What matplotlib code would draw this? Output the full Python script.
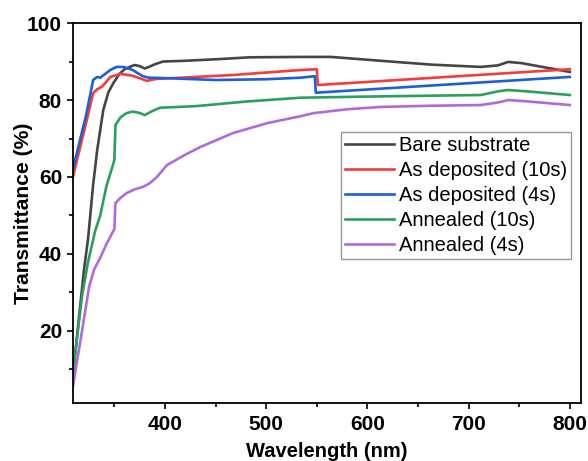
import matplotlib
matplotlib.use("Agg")
import matplotlib.pyplot as plt
from matplotlib.ticker import MultipleLocator

plt.rcParams['font.family'] = ['Liberation Sans', 'DejaVu Sans']

# values
wl_bare = [309, 312, 316, 320, 324, 329, 333, 339, 344, 349, 355, 360, 366, 370, 375, 380, 385, 390, 398,
           420, 451, 484, 534, 564, 613, 663, 712, 729, 739, 752, 800]
t_bare = [9, 16, 26, 36, 44, 58, 67, 77.4, 82, 84.4, 86.8, 88, 88.7, 89.1, 88.8, 88.2, 88.7, 89.3, 90,
          90.2, 90.6, 91.1, 91.2, 91.2, 90.2, 89.2, 88.6, 89, 89.9, 89.6, 87.3]

wl_ad10 = [309, 315, 322, 329, 333, 338, 346, 356, 368, 382, 392, 408, 467, 534, 550, 551, 800]
t_ad10 = [60, 66.5, 74, 81.8, 82.8, 83.5, 86, 86.8, 86.3, 85, 85.5, 85.7, 86.5, 87.8, 88, 83.9, 88]

wl_ad4 = [309, 315, 322, 329, 333, 336, 346, 352, 359, 368, 378, 384, 400, 450, 500, 534, 548, 549, 800]
t_ad4 = [62, 68.5, 76, 85.2, 86, 85.8, 87.8, 88.6, 88.6, 87.8, 86.2, 85.8, 85.7, 85.2, 85.4, 85.8, 86.2, 81.9, 86]

wl_an10 = [309, 313, 318, 324, 331, 336, 342, 349, 350, 351, 356, 362, 368, 374, 380, 388, 395, 430, 480,
           534, 600, 712, 730, 739, 760, 800]
t_an10 = [8, 18, 29, 38, 46, 50, 57.5, 63.5, 64.5, 73.5, 75.5, 76.6, 77, 76.7, 76.1, 77.2, 78, 78.4, 79.6,
          80.6, 80.9, 81.3, 82.3, 82.6, 82.2, 81.3]

wl_an4 = [309, 313, 318, 325, 330, 336, 342, 349, 350, 351, 356, 362, 370, 378, 385, 392, 402, 420, 435,
          467, 501, 534, 547, 580, 613, 660, 712, 730, 739, 760, 800]
t_an4 = [5.5, 12, 20, 31.5, 36, 39, 42.5, 46, 46.5, 53.2, 54.6, 55.8, 56.8, 57.4, 58.4, 60, 63.1, 65.8, 67.8,
         71.4, 74, 75.8, 76.6, 77.6, 78.2, 78.5, 78.7, 79.4, 80, 79.6, 78.7]

series = [
    ("Bare substrate", wl_bare, t_bare, "#454545"),
    ("As deposited (10s)", wl_ad10, t_ad10, "#f53c3c"),
    ("As deposited (4s)", wl_ad4, t_ad4, "#1c5fdc"),
    ("Annealed (10s)", wl_an10, t_an10, "#2ba05e"),
    ("Annealed (4s)", wl_an4, t_an4, "#b06ae0"),
]

fig = plt.figure(figsize=(5.88, 4.61), dpi=100)
ax = fig.add_axes([0.124, 0.126, 0.864, 0.824])

for label, x, y, c in series:
    ax.plot(x, y, color=c, lw=1.9, label=label)

ax.set_xlim(309, 811)
ax.set_ylim(1.3, 100)
ax.xaxis.set_major_locator(MultipleLocator(100))
ax.xaxis.set_minor_locator(MultipleLocator(50))
ax.yaxis.set_major_locator(MultipleLocator(20))
ax.yaxis.set_minor_locator(MultipleLocator(10))
ax.set_yticks([20, 40, 60, 80, 100])
ax.tick_params(which='major', direction='out', length=4.3, width=1.2, labelsize=15)
ax.tick_params(which='minor', direction='out', length=3, width=1.2)
ax.tick_params(axis='x', which='major', pad=4.5)
for lab in ax.get_xticklabels() + ax.get_yticklabels():
    lab.set_fontweight('bold')
for sp in ax.spines.values():
    sp.set_linewidth(1.3)

ax.set_xlabel("Wavelength (nm)", fontsize=14.5, fontweight='bold', labelpad=6)
ax.set_ylabel("Transmittance (%)", fontsize=15.2, fontweight='bold', labelpad=-4)

leg = ax.legend(loc='upper left', bbox_to_anchor=(0.528, 0.713), fontsize=14.5, frameon=True,
                fancybox=False, edgecolor='#808080', labelspacing=0.3, handlelength=2.4,
                handletextpad=0.25, borderpad=0.2, borderaxespad=0)
leg.get_frame().set_linewidth(1.0)

fig.savefig("out.png", dpi=100)
